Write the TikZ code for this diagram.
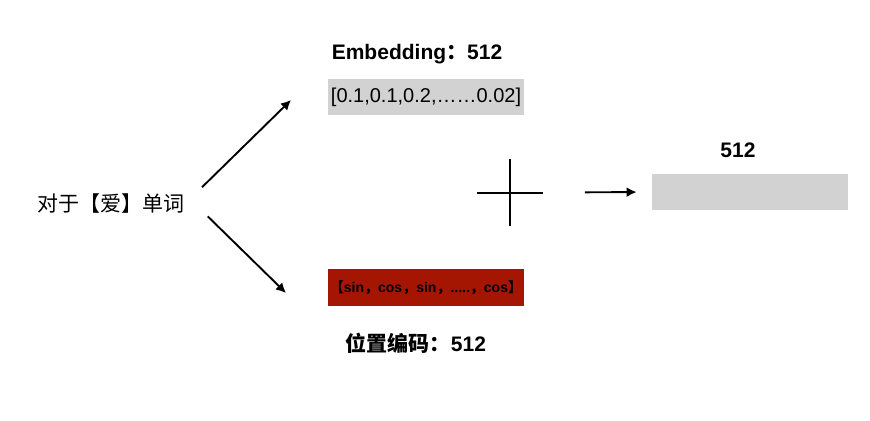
\documentclass[tikz,border=0pt]{standalone}
\usepackage{fontspec}
\setmainfont{Liberation Sans}
\newfontfamily\cjk{Noto Sans CJK SC}
\usetikzlibrary{positioning,arrows.meta}
\definecolor{boxgray}{RGB}{210,210,210}
\definecolor{pered}{RGB}{165,22,2}
\begin{document}
\begin{tikzpicture}[x=0.5pt, y=-0.5pt, node distance=8pt]
                \tikzstyle{label} = [inner sep=0pt, font=\fontsize{10.5}{12}\selectfont\bfseries]
                \tikzstyle{vec} = [inner sep=0pt, minimum width=98pt, minimum height=18pt]
                \tikzstyle{arr} = [-{Latex[length=5pt,width=5pt]}, line width=0.95pt]

                \useasboundingbox (0,0) rectangle (870,420);

                % Input word (left)
                \node[inner sep=0pt, font=\fontsize{10.5}{12}\selectfont\cjk] (word) at (111,204) {对于【爱】单词};

                % Embedding vector (grey) and positional encoding (red)
                \node[vec, fill=boxgray, font=\fontsize{10}{12}\selectfont] (emb) at (426,97) {[0.1,0.1,0.2,……0.02]};
                \node[vec, fill=pered, minimum height=18.5pt, font=\fontsize{7}{8}\selectfont\bfseries] (pe) at (426,287.5) {{\cjk 【}sin{\cjk ，}cos{\cjk ，}sin{\cjk ，}.....{\cjk ，}cos{\cjk 】}};
                \node[label] (embl) [above=7pt of emb, xshift=-4.5pt] {Embedding{\cjk ：}512};
                \node[label] (pel) [below=13pt of pe, xshift=-5pt] {{\cjk 位置编码：}512};

                % Sum and result
                \node[inner sep=0pt, minimum width=32.5pt, minimum height=33.5pt] (plus) at (510,192.5) {};
                \node[vec, fill=boxgray] (out) at (750,192) {};
                \node[label] (outl) [above=8pt of out, xshift=-6pt] {512};

                \draw[arr, shorten <=12pt] (word.east) -- (291,100);
                \draw[arr, shorten <=16pt] ([yshift=5pt]word.east) -- (286,293);
                \draw[line width=1pt] (plus.west) -- (plus.east);
                \draw[line width=1pt] (plus.north) -- (plus.south);
                \draw[arr, shorten <=21pt, shorten >=7.5pt] (plus.east) -- (out.west);
\end{tikzpicture}
\end{document}
